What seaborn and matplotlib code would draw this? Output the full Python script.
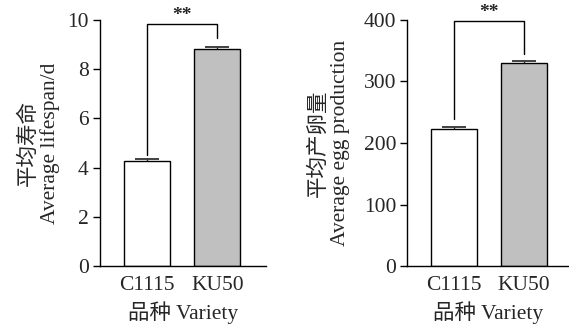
import matplotlib
matplotlib.use("Agg")
import matplotlib.pyplot as plt
import seaborn as sns
import pandas as pd

sns.set_style("ticks")
FONTS = ['Liberation Serif', 'Noto Sans CJK SC']
plt.rcParams['font.family'] = FONTS

varieties = ["C1115", "KU50"]
lifespan = [4.25, 8.82]
lifespan_err = [0.09, 0.09]
eggs = [222, 330]
eggs_err = [4, 3]
colors = ["#ffffff", "#c0c0c0"]
sig_label = "**"

ylabels = ["平均寿命\nAverage lifespan/d", "平均产卵量\nAverage egg production"]
xlabel = "品种 Variety"
yticks = [[0, 2, 4, 6, 8, 10], [0, 100, 200, 300, 400]]
ylims = [(0, 10), (0, 400)]
# bracket: top height, leg gaps above error bars
brackets = [(9.85, 0.17, 0.35), (399, 13, 12)]

FS = 15.5

fig = plt.figure(figsize=(5.69, 3.26), dpi=100)
ax1 = fig.add_axes([0.1757, 0.184, 0.4675 - 0.1757, 0.9387 - 0.184])
ax2 = fig.add_axes([0.7158, 0.184, 0.2842, 0.9387 - 0.184])

datasets = [(ax1, lifespan, lifespan_err), (ax2, eggs, eggs_err)]
pads = [5, 10]
for i, (ax, vals, errs) in enumerate(datasets):
    df = pd.DataFrame({"variety": varieties, "value": vals})
    sns.barplot(data=df, x="variety", y="value", hue="variety", palette=colors,
                edgecolor="black", linewidth=1.0, width=0.655, errorbar=None,
                legend=False, ax=ax, zorder=2)
    ax.errorbar(range(len(vals)), vals, yerr=errs, fmt="none", ecolor="#333333",
                elinewidth=1.0, capsize=8.5, capthick=1.3, zorder=1)
    ax.set_ylim(*ylims[i])
    ax.set_yticks(yticks[i])
    ax.set_xlim(-0.667, 1.69 if i == 0 else 1.64)
    ax.set_xlabel(xlabel, fontsize=FS, labelpad=5)
    ax.set_ylabel(ylabels[i], fontsize=FS, labelpad=pads[i], linespacing=1.12)
    ax.tick_params(axis="y", direction="out", length=5, width=1, labelsize=FS, pad=3, color="black")
    ax.tick_params(axis="x", length=0, labelsize=FS, pad=7)
    for s in ["top", "right"]:
        ax.spines[s].set_visible(False)
    for s in ["left", "bottom"]:
        ax.spines[s].set_linewidth(1.0)
        ax.spines[s].set_color("black")
    top, g0, g1 = brackets[i]
    y0 = vals[0] + errs[0] + g0
    y1 = vals[1] + errs[1] + g1
    ax.plot([0, 0, 1, 1], [y0, top, top, y1], color="black", lw=1.0, clip_on=False)
    ax.text(0.5, top, sig_label, ha="center", va="bottom", fontsize=14,
            fontweight="bold", clip_on=False)

fig.savefig("out.png", dpi=100)
